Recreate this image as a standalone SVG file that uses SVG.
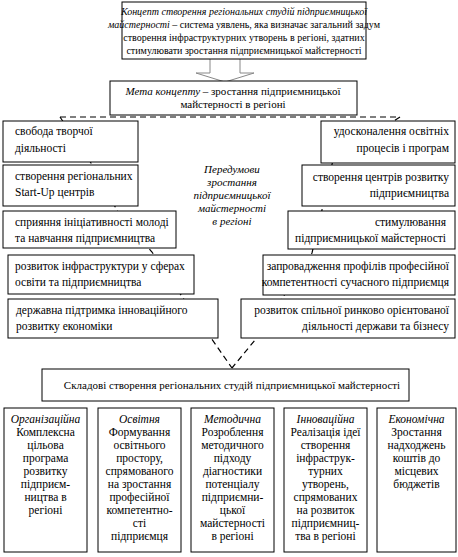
<svg xmlns="http://www.w3.org/2000/svg" width="458" height="557" viewBox="0 0 458 557">
<defs>
<style>
text{font-family:"Liberation Serif","Times New Roman",serif;fill:#000}
.t{font-size:10px}
.m{font-size:11px}
.b{font-size:11.5px}
.i{font-style:italic}
.mid{text-anchor:middle}
.end{text-anchor:end}
.box{fill:#fff;stroke:#000;stroke-width:1}
.dash{fill:none;stroke:#000;stroke-width:1.2;stroke-dasharray:6 4}
</style>
</defs>
<g id="connectors">
<path class="dash" d="M60,117 H400"/>
<path class="dash" d="M60,117 L91,163 L118,212 L152,252 L183,298 L211,338 L232,368"/>
<path class="dash" d="M400,117 L333,160 L322,210 L312,253 L283,297 L255,340 L232,368"/>
<path d="M210,59 V73 H196 L225,82 L254,73 H240 V59" fill="#fff" stroke="#888" stroke-width="1"/>
</g>
<g id="concept">
<rect class="box" x="122" y="2" width="244" height="57"/>
<text class="t mid"><tspan class="i" x="244" y="15">Концепт створення регіональних студій підприємницької</tspan><tspan x="244" y="28"><tspan class="i">майстерності</tspan> – система уявлень, яка визначає загальний задум</tspan><tspan x="244" y="41">створення інфраструктурних утворень в регіоні, здатних</tspan><tspan x="244" y="54">стимулювати зростання підприємницької майстерності</tspan></text>
</g>
<g id="goal">
<rect class="box" x="110" y="81" width="247" height="34"/>
<text class="m mid"><tspan x="233" y="95"><tspan class="i">Мета концепту</tspan> – зростання підприємницької</tspan><tspan x="233" y="108">майстерності в регіоні</tspan></text>
</g>
<g id="prereq">
<text class="m i mid"><tspan x="232" y="173">Передумови</tspan><tspan x="232" y="186">зростання</tspan><tspan x="232" y="199">підприємницької</tspan><tspan x="232" y="212">майстерності</tspan><tspan x="232" y="225">в регіоні</tspan></text>
</g>
<g id="l1"><rect class="box" x="3" y="121" width="135" height="41"/><text class="b"><tspan x="15" y="135">свобода творчої</tspan><tspan x="15" y="152">діяльності</tspan></text></g>
<g id="l2"><rect class="box" x="3" y="165" width="135" height="41"/><text class="b"><tspan x="15" y="180">створення регіональних</tspan><tspan x="15" y="196">Start-Up центрів</tspan></text></g>
<g id="l3"><rect class="box" x="3" y="211" width="173" height="37"/><text class="b"><tspan x="15" y="226">сприяння ініціативності молоді</tspan><tspan x="15" y="242">та навчання підприємництва</tspan></text></g>
<g id="l4"><rect class="box" x="8" y="255" width="186" height="39"/><text class="b"><tspan x="15" y="270">розвиток інфраструктури у сферах</tspan><tspan x="15" y="286">освіти та підприємництва</tspan></text></g>
<g id="l5"><rect class="box" x="8" y="299" width="210" height="39"/><text class="b"><tspan x="16" y="314">державна підтримка інноваційного</tspan><tspan x="16" y="330">розвитку економіки</tspan></text></g>
<g id="r1"><rect class="box" x="321" y="121" width="134" height="42"/><text class="b end"><tspan x="449" y="135">удосконалення освітніх</tspan><tspan x="449" y="152">процесів і програм</tspan></text></g>
<g id="r2"><rect class="box" x="302" y="165" width="153" height="41"/><text class="b end"><tspan x="449" y="181">створення центрів розвитку</tspan><tspan x="449" y="197">підприємництва</tspan></text></g>
<g id="r3"><rect class="box" x="288" y="211" width="167" height="38"/><text class="b end"><tspan x="446" y="226">стимулювання</tspan><tspan x="446" y="242">підприємницької майстерності</tspan></text></g>
<g id="r4"><rect class="box" x="263" y="255" width="192" height="40"/><text class="b end"><tspan x="449" y="270">запровадження профілів професійної</tspan><tspan x="449" y="286">компетентності сучасного підприємця</tspan></text></g>
<g id="r5"><rect class="box" x="241" y="299" width="214" height="39"/><text class="b end"><tspan x="449" y="314">розвиток спільної ринково орієнтованої</tspan><tspan x="449" y="330">діяльності держави та бізнесу</tspan></text></g>
<g id="components"><rect class="box" x="42" y="369" width="367" height="32"/><text class="m mid" x="232" y="389">Складові створення регіональних студій підприємницької майстерності</text></g>
<g id="c1"><rect class="box" x="4" y="408" width="83" height="144"/><text class="b mid"><tspan class="i" x="45.5" y="423">Організаційна</tspan><tspan x="45.5" y="436">Комплексна</tspan><tspan x="45.5" y="449">цільова</tspan><tspan x="45.5" y="462">програма</tspan><tspan x="45.5" y="475">розвитку</tspan><tspan x="45.5" y="488">підприєм-</tspan><tspan x="45.5" y="501">ництва в</tspan><tspan x="45.5" y="514">регіоні</tspan></text></g>
<g id="c2"><rect class="box" x="98" y="408" width="83" height="144"/><text class="b mid"><tspan class="i" x="139.5" y="423">Освітня</tspan><tspan x="139.5" y="436">Формування</tspan><tspan x="139.5" y="449">освітнього</tspan><tspan x="139.5" y="462">простору,</tspan><tspan x="139.5" y="475">спрямованого</tspan><tspan x="139.5" y="488">на зростання</tspan><tspan x="139.5" y="501">професійної</tspan><tspan x="139.5" y="514">компетентно-</tspan><tspan x="139.5" y="527">сті</tspan><tspan x="139.5" y="540">підприємця</tspan></text></g>
<g id="c3"><rect class="box" x="191" y="408" width="83" height="144"/><text class="b mid"><tspan class="i" x="232.5" y="423">Методична</tspan><tspan x="232.5" y="436">Розроблення</tspan><tspan x="232.5" y="449">методичного</tspan><tspan x="232.5" y="462">підходу</tspan><tspan x="232.5" y="475">діагностики</tspan><tspan x="232.5" y="488">потенціалу</tspan><tspan x="232.5" y="501">підприємни-</tspan><tspan x="232.5" y="514">цької</tspan><tspan x="232.5" y="527">майстерності</tspan><tspan x="232.5" y="540">в регіоні</tspan></text></g>
<g id="c4"><rect class="box" x="284" y="408" width="83" height="144"/><text class="b mid"><tspan class="i" x="325.5" y="423">Інноваційна</tspan><tspan x="325.5" y="436">Реалізація ідеї</tspan><tspan x="325.5" y="449">створення</tspan><tspan x="325.5" y="462">інфраструк-</tspan><tspan x="325.5" y="475">турних</tspan><tspan x="325.5" y="488">утворень,</tspan><tspan x="325.5" y="501">спрямованих</tspan><tspan x="325.5" y="514">на розвиток</tspan><tspan x="325.5" y="527">підприємниц-</tspan><tspan x="325.5" y="540">тва в регіоні</tspan></text></g>
<g id="c5"><rect class="box" x="377" y="408" width="79" height="144"/><text class="b mid"><tspan class="i" x="416.5" y="423">Економічна</tspan><tspan x="416.5" y="436">Зростання</tspan><tspan x="416.5" y="449">надходжень</tspan><tspan x="416.5" y="462">коштів до</tspan><tspan x="416.5" y="475">місцевих</tspan><tspan x="416.5" y="488">бюджетів</tspan></text></g>
</svg>
